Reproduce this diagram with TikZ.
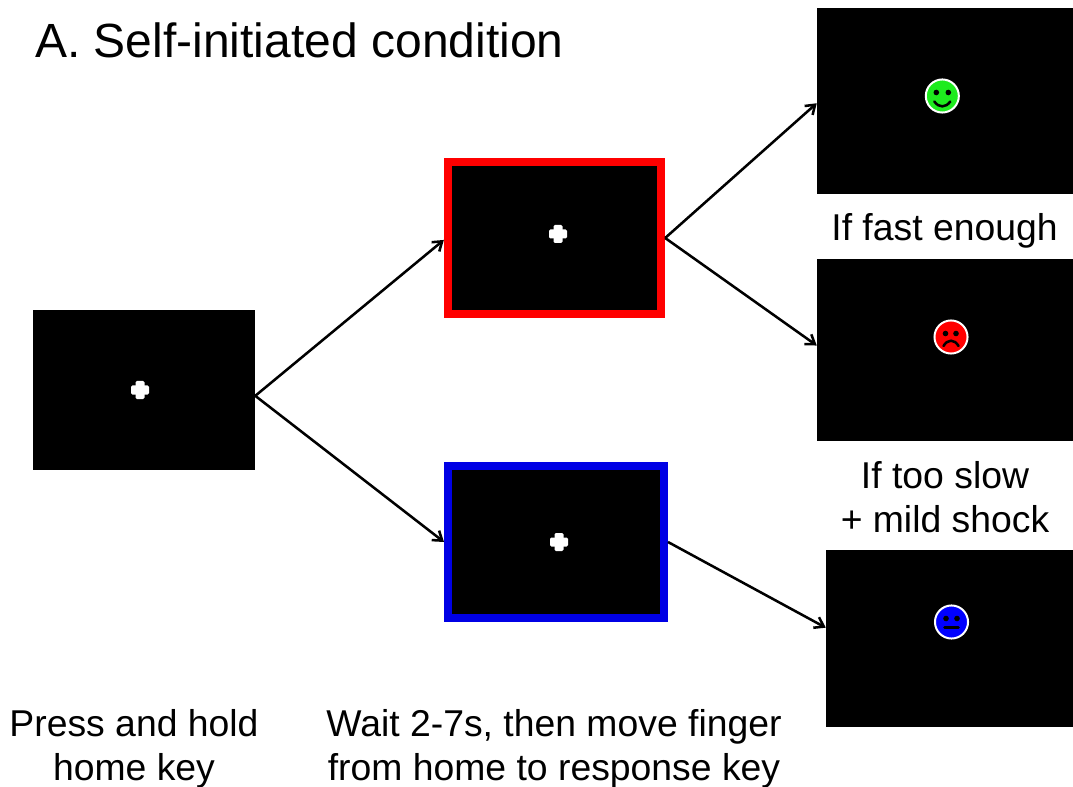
\documentclass[tikz,border=0pt]{standalone}
\usepackage{fontspec}
\setmainfont{Liberation Sans}
\usetikzlibrary{positioning}
\usetikzlibrary{arrows.meta}
\definecolor{facegreen}{RGB}{30,235,30}

\begin{document}
\begin{tikzpicture}[
    x=0.75pt,y=-0.75pt,
    font=\fontsize{28}{32.5}\selectfont
]
\tikzset{
    myscreen/.style = {rectangle, fill=black, inner sep=0pt, minimum width=#1},
    myface/.style = {circle, draw=white, line width=1.5pt, inner sep=0pt, minimum size=24.8pt},
    mylabel/.style = {align=center, inner sep=0pt},
    edgen/.style = {-{Straight Barb[length=6.5pt,width=9pt]},line width=1.9pt},
    facepart/.style = {black, line width=1.9pt, line cap=round}
}
\useasboundingbox (0,0) rectangle (1073,787);
% screens
\node[myscreen=166.5pt, minimum height=120pt] at (144,390) (hold) {};
\node[myscreen=160pt, minimum height=114pt, draw=red, line width=6pt] at (554.5,238) (redscreen) {};
\node[myscreen=162pt, minimum height=114pt, draw=blue!90!black, line width=6pt] at (556,542) (bluescreen) {};
\node[myscreen=192pt, minimum height=139.5pt] at (945,101) (fast) {};
\node[myscreen=192pt, minimum height=136.5pt] at (945,350) (slow) {};
\node[myscreen=185.25pt, minimum height=132.75pt] at (949.5,638.5) (neutral) {};
% fixation crosses
\foreach \x/\y in {140/390,558/234,559/542} {
    \fill[white, rounded corners=1pt] (\x-9,\y-4.5) rectangle (\x+9,\y+4.5);
    \fill[white, rounded corners=1pt] (\x-4.5,\y-9) rectangle (\x+4.5,\y+9);
}
% faces
\node[myface, fill=facegreen] at (942.3,96) (gface) {};
\fill (936.3,92.5) circle (2.8) (948.3,92.5) circle (2.8);
\draw[facepart] (934.3,101.5) .. controls (939,108) and (945.5,108) .. (950.3,101.5);
\node[myface, fill=red] at (951,337) (rface) {};
\fill (945.5,333.5) circle (2.8) (956,333.5) circle (2.8);
\draw[facepart] (943.5,346) .. controls (947.5,339) and (954.5,339) .. (958.5,346);
\node[myface, fill=blue] at (951.5,622) (bface) {};
\fill (946,618.5) circle (2.8) (957,618.5) circle (2.8);
\draw[facepart] (944.5,627.5) -- (958.5,627.5);
% arrows
\draw[edgen] (hold.-3) -- (redscreen.181);
\draw[edgen] (hold.-3) -- (bluescreen.180.8);
\draw[edgen] (redscreen.-0.5) -- (fast.181.5);
\draw[edgen] (redscreen.-0.5) -- (slow.178);
\draw[edgen] (bluescreen.-0.5) -- (neutral.175.6);
% labels
\node[mylabel, anchor=base west, font=\fontsize{36}{40}\selectfont] at (35,58) (title) {A. Self-initiated condition};
\node[mylabel] at (944.5,231) (fastlabel) {If fast enough};
\node[mylabel] at (945,497) (slowlabel) {If too slow\\+ mild shock};
\node[mylabel] at (134,749) (holdlabel) {Press and hold\\home key};
\node[mylabel] at (554,749) (waitlabel) {Wait 2-7s, then move finger\\from home to response key};
\end{tikzpicture}
\end{document}
